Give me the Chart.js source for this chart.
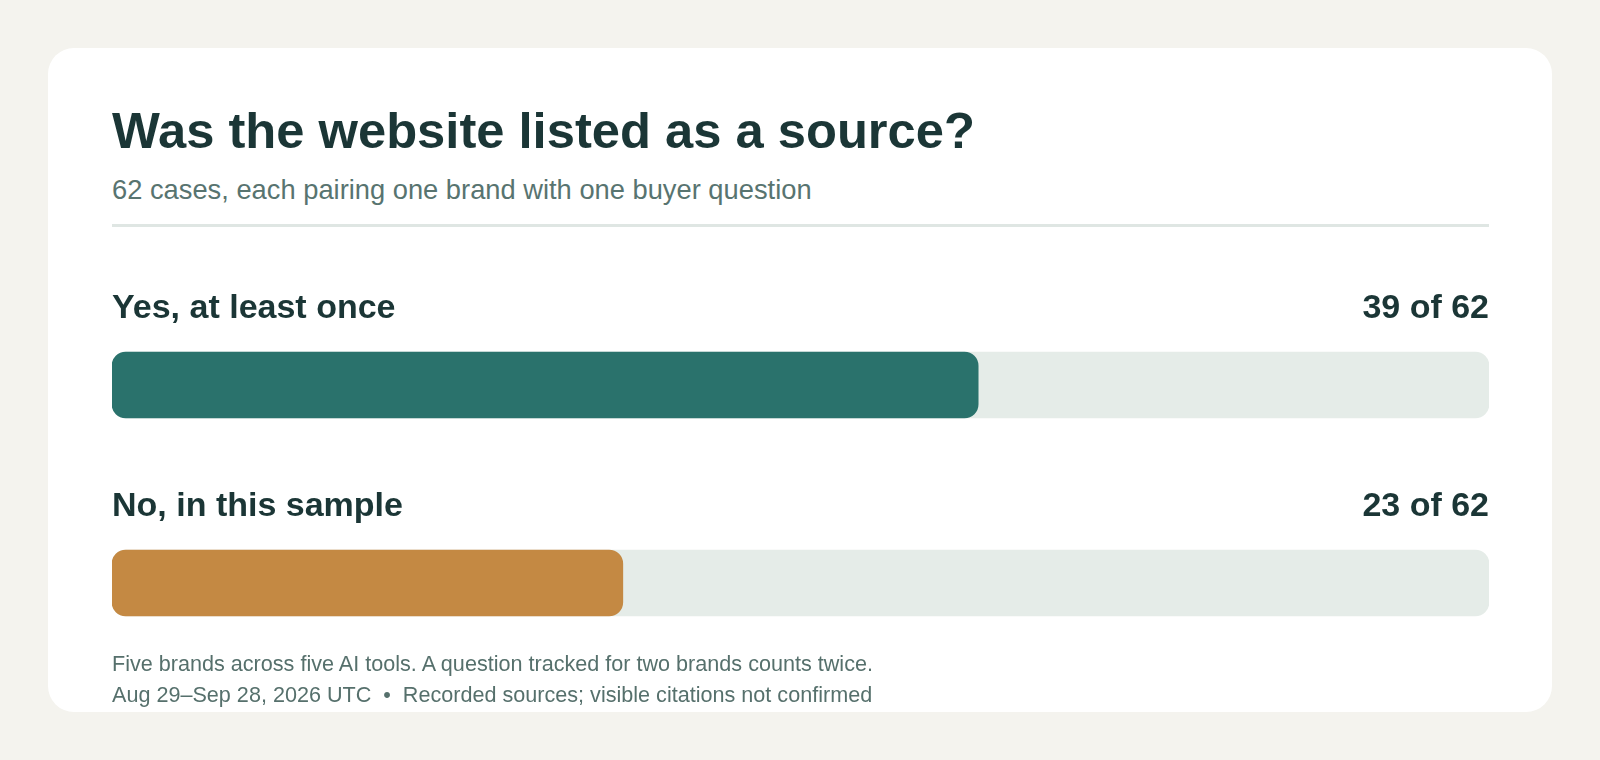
<!DOCTYPE html>
<html>
<head>
<meta charset="utf-8">
<script src="https://cdn.jsdelivr.net/npm/chart.js@4/dist/chart.umd.min.js"></script>
<style>
  html, body { margin: 0; padding: 0; }
  body {
    width: 1600px; height: 760px; overflow: hidden; position: relative;
    background: #f4f3ee;
    font-family: "Liberation Sans", Arial, Helvetica, sans-serif;
  }
  .card {
    position: absolute; left: 48px; top: 48px; width: 1504px; height: 664px;
    background: #ffffff; border-radius: 26px;
  }
  .txt { position: absolute; left: 112px; margin: 0; white-space: nowrap; line-height: 1; }
  #title { top: 106px; font-size: 50.7px; font-weight: 700; color: #1b3636; }
  #subtitle { top: 176px; font-size: 27.3px; color: #587470; }
  #rule { position: absolute; left: 112px; top: 224px; width: 1377px; height: 3px; background: #dfe6e3; }
  .foot { font-size: 21.6px; color: #56706c; }
  #foot1 { top: 653px; }
  #foot2 { top: 684px; }
  #chartBox { position: absolute; left: 112px; top: 250px; width: 1377px; height: 450px; }
</style>
</head>
<body>
<div class="card"></div>
<div class="txt" id="title">Was the website listed as a source?</div>
<div class="txt" id="subtitle">62 cases, each pairing one brand with one buyer question</div>
<div id="rule"></div>
<div id="chartBox"><canvas id="sourceChart"></canvas></div>
<div class="txt foot" id="foot1">Five brands across five AI tools. A question tracked for two brands counts twice.</div>
<div class="txt foot" id="foot2">Aug 29–Sep 28, 2026 UTC &nbsp;•&nbsp; Recorded sources; visible citations not confirmed</div>

<script>
// data
const categories = ['Yes, at least once', 'No, in this sample'];
const counts = [39, 23];
const total = 62;
const barColors = ['#2a726c', '#c48943'];
const trackColor = '#e5ece8';

// row label + "n of total" drawn above each bar
const rowLabels = {
  id: 'rowLabels',
  afterDatasetsDraw(chart) {
    const { ctx, chartArea } = chart;
    const meta = chart.getDatasetMeta(0);
    ctx.save();
    ctx.font = '700 34px "Liberation Sans", Arial, sans-serif';
    ctx.fillStyle = '#1b3636';
    ctx.textBaseline = 'alphabetic';
    meta.data.forEach((bar, i) => {
      const y = bar.y - bar.height / 2 - 34;
      ctx.textAlign = 'left';
      ctx.fillText(categories[i], chartArea.left, y);
      ctx.textAlign = 'right';
      ctx.fillText(`${counts[i]} of ${total}`, chartArea.right, y);
    });
    ctx.restore();
  },
};

const ctx = document.getElementById('sourceChart').getContext('2d');
new Chart(ctx, {
  type: 'bar',
  data: {
    labels: categories,
    datasets: [
      {
        label: 'cases',
        data: counts,
        backgroundColor: barColors,
        borderRadius: 14,
        borderSkipped: false,
        barThickness: 66,
        grouped: false,
        order: 0,
      },
      {
        label: 'total',
        data: categories.map(() => total),
        backgroundColor: trackColor,
        borderRadius: 14,
        borderSkipped: false,
        barThickness: 66,
        grouped: false,
        order: 1,
      },
    ],
  },
  options: {
    indexAxis: 'y',
    responsive: true,
    maintainAspectRatio: false,
    animation: false,
    layout: { padding: { top: 36, bottom: 18, left: 0, right: 0 } },
    plugins: {
      legend: { display: false },
      tooltip: { enabled: false },
    },
    scales: {
      x: { min: 0, max: total, display: false },
      y: { display: false },
    },
  },
  plugins: [rowLabels],
});
</script>
</body>
</html>
